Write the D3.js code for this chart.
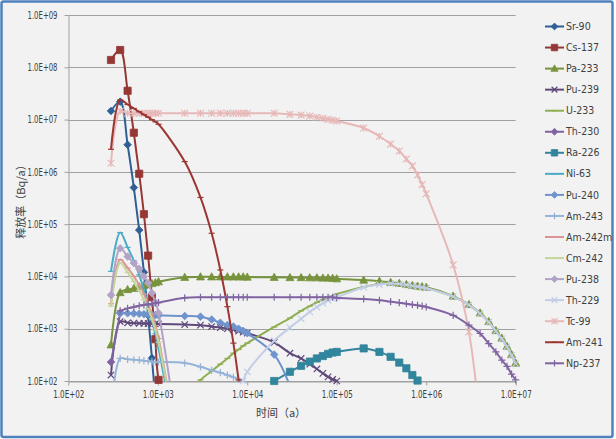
<!DOCTYPE html>
<html><head><meta charset="utf-8">
<script src="https://cdn.jsdelivr.net/npm/d3@7"></script>
<style>
html,body{margin:0;padding:0;background:#ffffff;}
svg text{font-family:"Liberation Sans Narrow","DejaVu Sans Condensed","Liberation Sans",sans-serif;fill:#404040;}
</style></head>
<body>
<svg id="chart" width="616" height="439"></svg>
<script>
const N = null;
// time grid (a)
const times = [300,380,460,540,620,700,780,860,940,1020,
  2000,3000,4000,5000,6000,7000,8000,9000,1e4,
  2e4,3e4,4e4,5e4,6e4,7e4,8e4,9e4,1e5,
  2e5,3e5,4e5,5e5,6e5,7e5,8e5,9e5,1e6,
  2e6,3e6,4e6,5e6,6e6,7e6,8e6,9e6,1e7];

const seriesNames = ["Sr-90","Cs-137","Pa-233","Pu-239","U-233","Th-230","Ra-226","Ni-63","Pu-240","Am-243","Am-242m","Cm-242","Pu-238","Th-229","Tc-99","Am-241","Np-237"];

const sr90 = [1.46e7,2.2e7,3.3e6,5.0e5,7.7e4,1.2e4,1.8e3,2.75e2,42,N, N,N,N,N,N,N,N,N,N, N,N,N,N,N,N,N,N,N, N,N,N,N,N,N,N,N,N, N,N,N,N,N,N,N,N,N];
const cs137 = [1.38e8,2.14e8,3.56e7,5.6e6,9.2e5,1.55e5,2.5e4,4.0e3,6.3e2,1.05e2, 1,N,N,N,N,N,N,N,N, N,N,N,N,N,N,N,N,N, N,N,N,N,N,N,N,N,N, N,N,N,N,N,N,N,N,N];
const pa233 = [4.9e2,4.9e3,5.6e3,5.9e3,6.3e3,6.7e3,7.0e3,7.3e3,7.6e3,7.9e3,
  9.6e3,9.8e3,9.8e3,9.8e3,9.8e3,9.8e3,9.8e3,9.8e3,9.7e3,
  9.6e3,9.5e3,9.5e3,9.4e3,9.4e3,9.3e3,9.3e3,9.2e3,9.0e3,
  8.5e3,8.1e3,7.7e3,7.35e3,7.0e3,6.7e3,6.5e3,6.35e3,6.2e3,
  4.2e3,2.9e3,2.0e3,1.37e3,9.2e2,6.6e2,4.6e2,3.2e2,2.2e2];
const pu239 = [1.3e2,1.37e3,1.3e3,1.28e3,1.27e3,1.26e3,1.25e3,1.25e3,1.24e3,1.23e3,
  1.2e3,1.17e3,1.1e3,1.05e3,1.0e3,9.5e2,9.0e2,8.6e2,8.2e2,
  5.5e2,3.4e2,2.7e2,2.1e2,1.7e2,1.4e2,1.2e2,1.07e2,1.0e2,
  10,N,N,N,N,N,N,N,N, N,N,N,N,N,N,N,N,N];
const u233 = [N,N,N,N,N,N,N,N,N,N,
  50,1.05e2,1.55e2,2.1e2,2.7e2,3.4e2,4.0e2,4.7e2,5.3e2,
  1.08e3,1.6e3,2.2e3,2.7e3,3.2e3,3.6e3,4.0e3,4.3e3,4.6e3,
  6.3e3,7.2e3,7.5e3,7.2e3,6.9e3,6.6e3,6.4e3,6.2e3,6.0e3,
  4.1e3,2.85e3,1.95e3,1.33e3,9.0e2,6.4e2,4.5e2,3.1e2,2.15e2];
const th230 = [2.3e2,2.0e3,N,N,N,N,N,N,N,N, N,N,N,N,N,N,N,N,N, N,N,N,N,N,N,N,N,N, N,N,N,N,N,N,N,N,N, N,N,N,N,N,N,N,N,N];
const ra226 = [N,N,N,N,N,N,N,N,N,N, N,N,N,N,N,N,N,N,N,
  1.0e2,1.5e2,1.95e2,2.35e2,2.7e2,3.0e2,3.3e2,3.5e2,3.6e2,
  4.2e2,3.6e2,2.9e2,2.25e2,1.75e2,1.3e2,1.02e2,60,N,
  N,N,N,N,N,N,N,N,N];
const ni63 = [1.25e4,6.9e4,3.6e4,2.0e4,1.07e4,5.5e3,2.8e3,1.47e3,8.0e2,4.2e2, 1,N,N,N,N,N,N,N,N, N,N,N,N,N,N,N,N,N, N,N,N,N,N,N,N,N,N, N,N,N,N,N,N,N,N,N];
const pu240 = [N,1.97e3,1.97e3,1.95e3,1.93e3,1.9e3,1.87e3,1.84e3,1.82e3,1.8e3,
  1.75e3,1.7e3,1.5e3,1.3e3,1.18e3,1.1e3,1.0e3,9.1e2,8.2e2,
  3.2e2,80,N,N,N,N,N,N,N, N,N,N,N,N,N,N,N,N, N,N,N,N,N,N,N,N,N];
const am243 = [20,2.7e2,2.6e2,2.55e2,2.5e2,2.45e2,2.4e2,2.35e2,2.3e2,2.3e2,
  2.2e2,1.87e2,1.6e2,1.45e2,1.3e2,1.18e2,1.09e2,98,84,
  10,N,N,N,N,N,N,N,N, N,N,N,N,N,N,N,N,N, N,N,N,N,N,N,N,N,N];
const am242m = [3.0e3,2.1e4,1.45e4,1.0e4,6.8e3,4.6e3,3.0e3,1.9e3,1.15e3,6.5e2, 1,N,N,N,N,N,N,N,N, N,N,N,N,N,N,N,N,N, N,N,N,N,N,N,N,N,N, N,N,N,N,N,N,N,N,N];
const cm242 = [2.7e3,1.8e4,1.2e4,8.0e3,5.4e3,3.6e3,2.4e3,1.55e3,9.5e2,5.5e2, 1,N,N,N,N,N,N,N,N, N,N,N,N,N,N,N,N,N, N,N,N,N,N,N,N,N,N, N,N,N,N,N,N,N,N,N];
const pu238 = [4.4e3,3.45e4,2.4e4,1.8e4,1.4e4,1.0e4,7.5e3,4.8e3,3.2e3,2.0e3, 1,N,N,N,N,N,N,N,N, N,N,N,N,N,N,N,N,N, N,N,N,N,N,N,N,N,N, N,N,N,N,N,N,N,N,N];
const th229 = [N,N,N,N,N,N,N,N,N,N,
  N,N,N,N,N,N,40,1.0e2,1.5e2,
  5.9e2,1.05e3,1.55e3,2.1e3,2.6e3,3.1e3,3.5e3,3.8e3,4.0e3,
  6.2e3,7.0e3,7.3e3,7.2e3,6.9e3,6.6e3,6.4e3,6.15e3,5.95e3,
  4.1e3,2.85e3,1.95e3,1.33e3,9.0e2,6.4e2,4.5e2,3.1e2,2.15e2];
const tc99 = [1.46e6,1.45e7,1.32e7,1.32e7,1.32e7,1.32e7,1.32e7,1.32e7,1.32e7,1.32e7,
  1.32e7,1.32e7,1.32e7,1.32e7,1.32e7,1.32e7,1.32e7,1.32e7,1.32e7,
  1.32e7,1.26e7,1.22e7,1.17e7,1.11e7,1.06e7,1.01e7,9.7e6,9.4e6,
  6.9e6,4.8e6,3.4e6,2.5e6,1.76e6,1.3e6,8.7e5,5.7e5,3.8e5,
  1.66e4,8.7e2,16,N,N,N,N,N,N];
const am241 = [2.7e6,2.37e7,1.94e7,1.63e7,1.41e7,1.24e7,1.11e7,9.96e6,9.08e6,8.13e6,
  1.57e6,3.24e5,6.7e4,1.33e4,2.64e3,5.3e2,1.05e2,20,N,
  N,N,N,N,N,N,N,N,N, N,N,N,N,N,N,N,N,N, N,N,N,N,N,N,N,N,N];
const np237 = [N,2.2e3,2.45e3,2.6e3,2.75e3,2.85e3,2.95e3,3.0e3,3.1e3,3.15e3,
  3.9e3,4.0e3,4.0e3,4.0e3,4.0e3,4.0e3,4.0e3,4.0e3,4.0e3,
  4.0e3,4.0e3,4.0e3,4.0e3,4.0e3,4.0e3,4.0e3,4.0e3,3.9e3,
  3.7e3,3.5e3,3.3e3,3.15e3,3.0e3,2.9e3,2.8e3,2.7e3,2.6e3,
  1.8e3,1.17e3,8.1e2,5.2e2,3.6e2,2.5e2,1.9e2,1.35e2,1.05e2];

const seriesValues = [sr90,cs137,pa233,pu239,u233,th230,ra226,ni63,pu240,am243,am242m,cm242,pu238,th229,tc99,am241,np237];

const xTickValues = [1e2,1e3,1e4,1e5,1e6,1e7];
const xTickLabels = ["1.0E+02","1.0E+03","1.0E+04","1.0E+05","1.0E+06","1.0E+07"];
const yTickValues = [1e2,1e3,1e4,1e5,1e6,1e7,1e8,1e9];
const yTickLabels = ["1.0E+02","1.0E+03","1.0E+04","1.0E+05","1.0E+06","1.0E+07","1.0E+08","1.0E+09"];

// styles (kept apart from data)
const styles = [
  {color:"#2f5f95", marker:"diamond"},
  {color:"#953735", marker:"square"},
  {color:"#77933c", marker:"triangle"},
  {color:"#5f497a", marker:"x"},
  {color:"#8fae52", marker:"dash"},
  {color:"#8064a2", marker:"diamond"},
  {color:"#31859c", marker:"square"},
  {color:"#4bacc6", marker:"dash"},
  {color:"#6f93cc", marker:"diamond"},
  {color:"#95b3d7", marker:"plus"},
  {color:"#d99694", marker:"dash"},
  {color:"#c3d69b", marker:"dash"},
  {color:"#b3a2c7", marker:"diamond"},
  {color:"#c2cde6", marker:"x"},
  {color:"#e6b9b8", marker:"star"},
  {color:"#9b3633", marker:"dash"},
  {color:"#8064a2", marker:"plus"}
];

const svg = d3.select("#chart");
const L = 68.3, R = 515.7, T = 15, B = 381;

svg.append("rect").attr("x",1.5).attr("y",1.5).attr("width",611).attr("height",435.5)
  .attr("fill","#f2f2f2").attr("stroke","#4f81bd").attr("stroke-width",2.5).attr("rx",2);

const x = d3.scaleLog().domain([1e2,1e7]).range([L,R]);
const y = d3.scaleLog().domain([1e2,1e9]).range([B,T]);

// gridlines
svg.append("g").selectAll("line").data(yTickValues).join("line")
  .attr("x1",L).attr("x2",R).attr("y1",d=>Math.round(y(d))+0.5).attr("y2",d=>Math.round(y(d))+0.5)
  .attr("stroke","#a0a0a0").attr("stroke-width",1);

// axes
const xAxis = d3.axisBottom(x).tickValues(xTickValues).tickFormat((d,i)=>xTickLabels[i]).tickSizeInner(4).tickSizeOuter(0).tickPadding(5);
const gx = svg.append("g").attr("transform",`translate(0,${Math.round(B)+0.5})`).call(xAxis);
gx.select(".domain").attr("stroke","#a0a0a0");
gx.selectAll(".tick line").attr("stroke","#a0a0a0");
gx.selectAll(".tick text").attr("font-size",10).attr("fill","#404040")
  .attr("textLength",31).attr("lengthAdjust","spacingAndGlyphs")
  .style("font-family",'"Liberation Sans Narrow","DejaVu Sans Condensed",sans-serif');

const yAxis = d3.axisLeft(y).tickValues(yTickValues).tickFormat((d,i)=>yTickLabels[i]).tickSizeInner(4).tickSizeOuter(0).tickPadding(7);
const gy = svg.append("g").attr("transform",`translate(${Math.round(L)+0.5},0)`).call(yAxis);
gy.select(".domain").attr("stroke","#a0a0a0");
gy.selectAll(".tick line").attr("stroke","#a0a0a0");
gy.selectAll(".tick text").attr("font-size",10).attr("fill","#404040")
  .attr("textLength",30).attr("lengthAdjust","spacingAndGlyphs")
  .style("font-family",'"Liberation Sans Narrow","DejaVu Sans Condensed",sans-serif');

// axis titles
svg.append("text").attr("x",281).attr("y",417).attr("text-anchor","middle")
  .attr("font-size",11).style("font-family",'"Noto Sans CJK SC",sans-serif').text("时间（a）");
svg.append("text").attr("transform","translate(25,199) rotate(-90)").attr("text-anchor","middle")
  .attr("font-size",11).style("font-family",'"Noto Sans CJK SC",sans-serif').text("释放率（Bq/a）");

// clip
svg.append("clipPath").attr("id","plotclip").append("rect")
  .attr("x",L).attr("y",T-1).attr("width",R-L).attr("height",B-T+1.5);

function markerPath(type, r){
  switch(type){
    case "diamond": return `M0,${-r}L${r},0L0,${r}L${-r},0Z`;
    case "square": return `M${-r},${-r}H${r}V${r}H${-r}Z`;
    case "triangle": return `M0,${-r*1.1}L${r*1.05},${r*0.8}L${-r*1.05},${r*0.8}Z`;
    case "x": return `M${-r},${-r}L${r},${r}M${-r},${r}L${r},${-r}`;
    case "plus": return `M0,${-r}V${r}M${-r},0H${r}`;
    case "star": return `M${-r},${-r}L${r},${r}M${-r},${r}L${r},${-r}M0,${-r}V${r}`;
    case "dash": return `M${-r},0H${r}`;
  }
}
function markerSize(type){
  return {diamond:3.8,square:3.6,triangle:3.8,x:3.2,plus:3.6,star:3.4,dash:3}[type];
}
function drawMarker(g, type, color, cx, cy, scale){
  const r = markerSize(type)*scale;
  const filled = (type==="diamond"||type==="square"||type==="triangle");
  g.append("path").attr("d",markerPath(type,r)).attr("transform",`translate(${cx},${cy})`)
    .attr("fill",filled?color:"none").attr("stroke",color).attr("stroke-width",filled?0.8:1.2);
}

const line = d3.line()
  .defined(d=>d.v!=null)
  .x(d=>x(d.t)).y(d=>y(d.v))
  .curve(d3.curveCatmullRom.alpha(0.5));

const plot = svg.append("g");
seriesNames.forEach((name,i)=>{
  const st = styles[i];
  const pts = times.map((t,j)=>({t, v: seriesValues[i][j]}));
  const g = plot.append("g");
  g.append("path").datum(pts).attr("d",line).attr("fill","none")
    .attr("stroke",st.color).attr("stroke-width",2).attr("stroke-linejoin","round")
    .attr("clip-path","url(#plotclip)");
  pts.forEach(p=>{
    if(p.v!=null && p.v>=99 && p.v<=1e9){
      drawMarker(g, st.marker, st.color, x(p.t), y(p.v), 1);
    }
  });
});

// legend
const lg = svg.append("g");
seriesNames.forEach((name,i)=>{
  const st = styles[i];
  const yy = 26.5 + i*21.05;
  lg.append("line").attr("x1",545).attr("x2",564).attr("y1",yy).attr("y2",yy)
    .attr("stroke",st.color).attr("stroke-width",2);
  drawMarker(lg, st.marker, st.color, 554.5, yy, 0.9);
  lg.append("text").attr("x",566).attr("y",yy+3.6).attr("font-size",10.5).text(name);
});
</script>
</body></html>
